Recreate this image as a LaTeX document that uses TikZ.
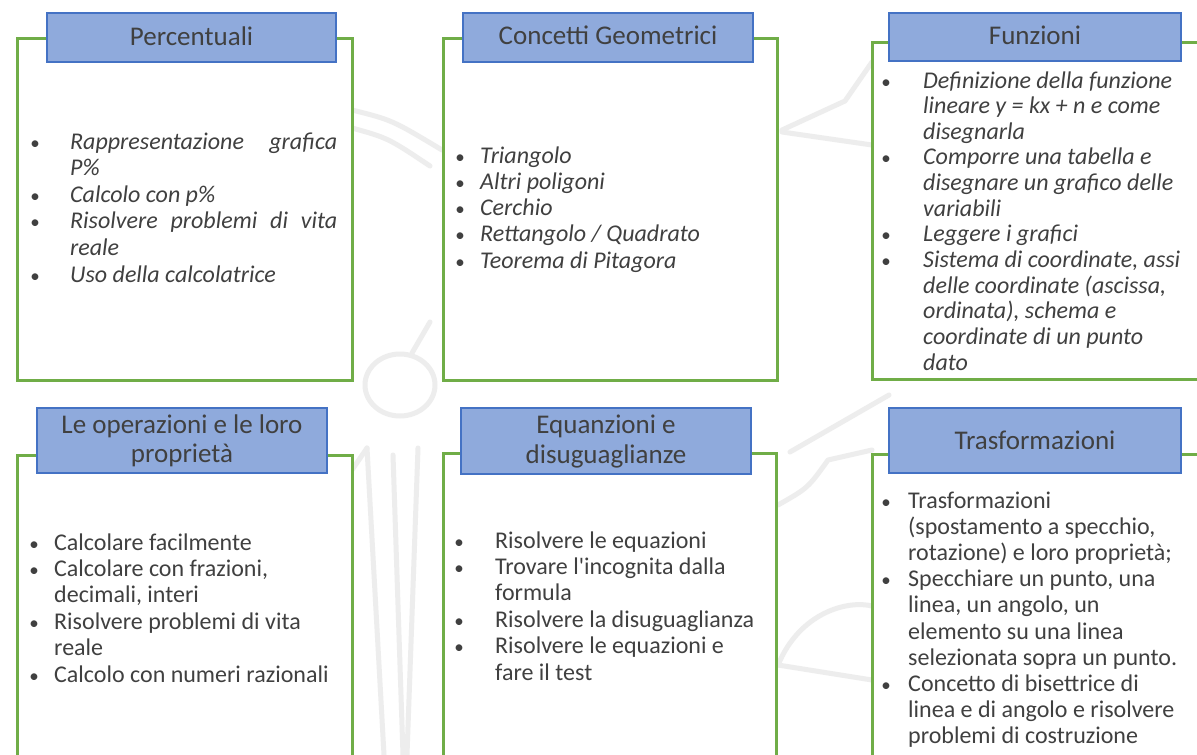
\documentclass[tikz,border=0pt]{standalone}
\usepackage{fontspec}
\setmainfont{Carlito}
\definecolor{boxgreen}{HTML}{70AD47}
\definecolor{hdrfill}{HTML}{8FAADC}
\definecolor{hdrline}{HTML}{4472C4}
\definecolor{txt}{HTML}{404040}
\definecolor{wm}{HTML}{EDEDED}
\begin{document}
\begin{tikzpicture}[x=1pt,y=-1pt,
  greenbox/.style={draw=boxgreen, fill=white, line width=3pt, minimum width=#1, inner sep=0},
  hdrbox/.style={draw=hdrline, fill=hdrfill, line width=1.1pt, inner sep=0},
  hdrtext/.style={font=\fontsize{27}{30}\selectfont, text=txt, inner sep=0, anchor=base},
  body/.style={font=\fontsize{24}{26}\selectfont, text=txt, inner sep=0, anchor=base west},
  ibody/.style={body, font=\fontsize{24}{26}\selectfont\itshape},
  bul/.style={font=\fontsize{19}{26}\selectfont, text=txt, inner sep=0, anchor=base},
  wmark/.style={draw=wm, line width=5pt, line cap=round, line join=round}]
\useasboundingbox (0,0) rectangle (1197,755);
\clip (0,0) rectangle (1197,755);
\fill[white] (0,0) rectangle (1197,755);

% faint background watermark
\draw[wmark] (352,110) .. controls (392,120) .. (442,150);
\draw[wmark] (352,128) .. controls (388,138) .. (430,166);
\draw[wmark] (400,385) ellipse [x radius=35pt, y radius=31pt];
\draw[wmark] (412,353) -- (430,322);
\draw[wmark] (367,448) -- (384,755);
\draw[wmark] (393,455) -- (403,755);
\draw[wmark] (418,448) -- (407,755);
\draw[wmark] (352,470) -- (367,448);
\draw[wmark] (782,130) -- (845,101) -- (872,62);
\draw[wmark] (782,132) -- (872,145);
\draw[wmark] (778,505) .. controls (808,488) .. (828,460) -- (872,450);
\draw[wmark] (790,452) -- (889,395);
\draw[wmark] (778,665) .. controls (800,612) and (848,600) .. (872,606);
\draw[wmark] (778,665) -- (872,680);

% green frames
\node[greenbox=335pt, minimum height=342pt] (g1) at (184.5,209) {};
\node[greenbox=334pt, minimum height=342pt] (g2) at (610,209) {};
\node[greenbox=358pt, minimum height=337pt] (g3) at (1051,210.5) {};
\node[greenbox=335pt, minimum height=335pt] (g4) at (184.5,622.5) {};
\node[greenbox=333pt, minimum height=337pt] (g5) at (609.5,621.5) {};
\node[greenbox=358pt, minimum height=336pt] (g6) at (1051,622) {};

% headers
\node[hdrbox, minimum width=289pt, minimum height=49pt] (h1) at (191.5,37.5) {};
\node[hdrbox, minimum width=290pt, minimum height=49pt] (h2) at (608,37.5) {};
\node[hdrbox, minimum width=292pt, minimum height=48pt] (h3) at (1035,37) {};
\node[hdrbox, minimum width=290pt, minimum height=65pt] (h4) at (182,440.5) {};
\node[hdrbox, minimum width=290pt, minimum height=66pt] (h5) at (606,441) {};
\node[hdrbox, minimum width=292pt, minimum height=65pt] (h6) at (1035,440.5) {};

\node[hdrtext] (t1) at (191.5,45) {Percentuali};
\node[hdrtext] (t2) at (608,44.5) {Concetti Geometrici};
\node[hdrtext] (t3) at (1035,44) {Funzioni};
\node[hdrtext] (t4a) at (182,433) {Le operazioni e le loro};
\node[hdrtext] (t4b) at (182,462) {proprietà};
\node[hdrtext] (t5a) at (606,433) {Equanzioni e};
\node[hdrtext] (t5b) at (606,463) {disuguaglianze};
\node[hdrtext] (t6) at (1035,449) {Trasformazioni};

% box 1
\foreach \t [count=\i] in {{\makebox[267pt][s]{Rappresentazione\hfill grafica}},{P\%},{Calcolo con p\%},{\makebox[267pt][s]{Risolvere\hfill problemi\hfill di\hfill vita}},{reale},{Uso della calcolatrice}}
  \node[ibody] (a\i) at (70,{149+26.6*(\i-1)}) {\t};
\foreach \i in {1,3,4,6}
  \node[bul] (ab\i) at (35,{149+26.6*(\i-1)}) {•};

% box 2
\foreach \t [count=\i] in {{Triangolo},{Altri poligoni},{Cerchio},{Rettangolo / Quadrato},{Teorema di Pitagora}}
  \node[ibody] (b\i) at (480,{163+26.3*(\i-1)}) {\t};
\foreach \i in {1,...,5}
  \node[bul] (bb\i) at (460,{163+26.3*(\i-1)}) {•};

% box 3
\foreach \t [count=\i] in {{Definizione della funzione},{lineare y = kx + n e come},{disegnarla},{Comporre una tabella e},{disegnare un grafico delle},{variabili},{Leggere i grafici},{Sistema di coordinate, assi},{delle coordinate (ascissa,},{ordinata), schema e},{coordinate di un punto},{dato}}
  \node[ibody] (c\i) at (923,{88+25.65*(\i-1)}) {\t};
\foreach \i in {1,4,7,8}
  \node[bul] (cb\i) at (886,{88+25.65*(\i-1)}) {•};

% box 4
\foreach \t [count=\i] in {{Calcolare facilmente},{Calcolare con frazioni,},{decimali, interi},{Risolvere problemi di vita},{reale},{Calcolo con numeri razionali}}
  \node[body] (d\i) at (54,{550+26.4*(\i-1)}) {\t};
\foreach \i in {1,2,4,6}
  \node[bul] (db\i) at (34,{550+26.4*(\i-1)}) {•};

% box 5
\foreach \t [count=\i] in {{Risolvere le equazioni},{Trovare l\textquotesingle incognita dalla},{formula},{Risolvere la disuguaglianza},{Risolvere le equazioni e},{fare il test}}
  \node[body] (e\i) at (495,{548+26.4*(\i-1)}) {\t};
\foreach \i in {1,2,4,5}
  \node[bul] (eb\i) at (459,{548+26.4*(\i-1)}) {•};

% box 6
\foreach \t [count=\i] in {{Trasformazioni},{(spostamento a specchio,},{rotazione) e loro proprietà;},{Specchiare un punto, una},{linea, un angolo, un},{elemento su una linea},{selezionata sopra un punto.},{Concetto di bisettrice di},{linea e di angolo e risolvere},{problemi di costruzione}}
  \node[body] (f\i) at (908,{508+26.2*(\i-1)}) {\t};
\foreach \i in {1,4,8}
  \node[bul] (fb\i) at (886,{508+26.2*(\i-1)}) {•};
\end{tikzpicture}
\end{document}
